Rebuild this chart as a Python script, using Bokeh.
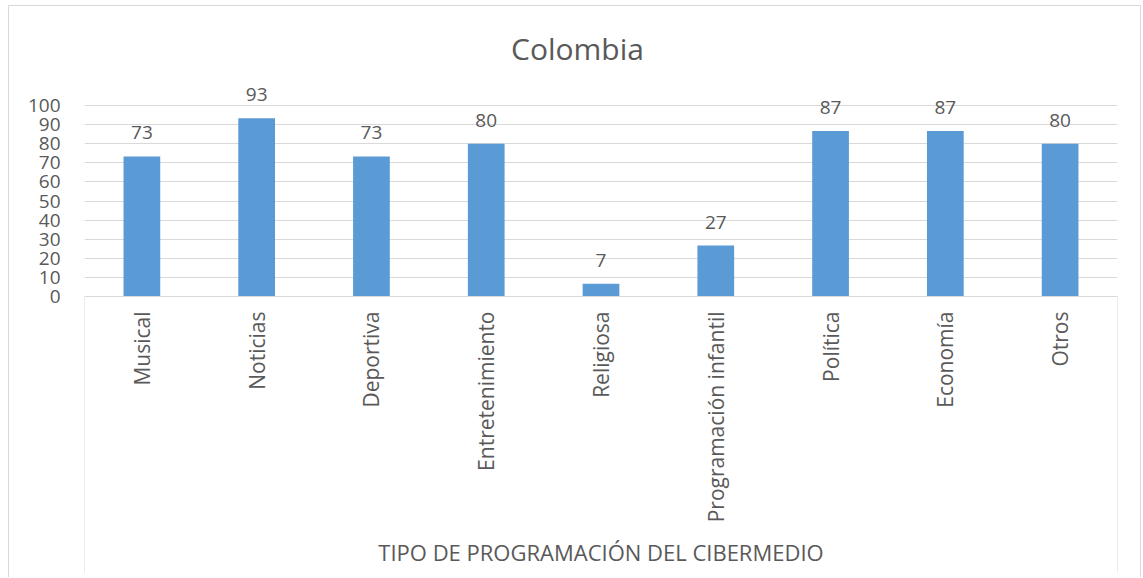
import math
from bokeh.plotting import figure
from bokeh.models import ColumnDataSource, FactorRange, FixedTicker, Span, Label, Range1d
from bokeh.core.properties import value
from bokeh.embed import file_html
from bokeh.resources import INLINE

categories = ["Musical", "Noticias", "Deportiva", "Entretenimiento", "Religiosa",
              "Programación infantil", "Política", "Economía", "Otros"]
values = [73.3, 93.3, 73.3, 80.0, 6.7, 26.7, 86.7, 86.7, 80.0]
y_ticks = [0, 10, 20, 30, 40, 50, 60, 70, 80, 90, 100]
title_text = "Colombia"
x_title = "TIPO DE PROGRAMACIÓN DEL CIBERMEDIO"

FONT = "Open Sans"
TXT = "#595959"
GRID = "#d9d9d9"

# layout constants (pixels inside the figure)
W, H = 1133, 572
FRAME_L, FRAME_R = 75, 1108
ZERO_Y = 290          # pixel row of value 0
PX = 1.91             # pixels per unit
y_end = ZERO_Y / PX
y_start = -(H - ZERO_Y) / PX
n = len(categories)
slot = (FRAME_R - FRAME_L) / n

src = ColumnDataSource(dict(cat=categories, val=values,
                            lab=[str(int(round(v))) for v in values],
                            zero=[0] * n))

p = figure(width=W, height=H, output_backend="svg", toolbar_location=None,
           x_range=FactorRange(*categories, range_padding=0),
           y_range=Range1d(y_start, y_end),
           min_border_left=FRAME_L, min_border_right=W - FRAME_R,
           min_border_top=0, min_border_bottom=0)
p.margin = (5, 0, 0, 8)
p.styles = {"border-top": "1px solid #d9d9d9", "border-left": "1px solid #d9d9d9",
            "border-right": "1px solid #d9d9d9"}
p.outline_line_color = None
p.background_fill_color = "white"
p.border_fill_color = "white"

p.vbar(x="cat", top="val", width=0.32, source=src, color="#5B9BD5", line_color=None)
p.text(x="cat", y="val", text="lab", source=src, y_offset=-17,
       text_align="center", text_baseline="bottom",
       text_font=value(FONT), text_font_size="19px", text_color=TXT)

# category labels under the axis
p.text(x="cat", y="zero", text="cat", source=src, y_offset=15, angle=math.pi / 2,
       text_align="right", text_baseline="middle",
       text_font=value(FONT), text_font_size="21px", text_color=TXT)

# category axis line and box sides
p.add_layout(Span(location=0, dimension="width", line_color=GRID, line_width=1))
p.segment(x0=[0, n], y0=[0, 0], x1=[0, n], y1=[y_start + 3, y_start + 3],
          line_color=GRID, line_width=1)

p.yaxis.ticker = FixedTicker(ticks=y_ticks)
p.yaxis.axis_line_color = None
p.yaxis.major_tick_line_color = None
p.yaxis.minor_tick_line_color = None
p.yaxis.major_label_standoff = 18
p.yaxis.major_label_text_font = FONT
p.yaxis.major_label_text_font_size = "19px"
p.yaxis.major_label_text_color = TXT

p.ygrid.grid_line_color = GRID
p.xgrid.grid_line_color = None
p.xaxis.visible = False

p.add_layout(Label(x=n / 2, y=-(551 - 296) / PX, text=x_title,
                   text_align="center", text_baseline="middle",
                   text_font=FONT, text_font_size="22px", text_color=TXT))
p.add_layout(Label(x=(577 - 84) / slot, y=(296 - 48) / PX,
                   text=title_text, text_align="center", text_baseline="middle",
                   text_font=FONT, text_font_size="30px", text_color=TXT))

open("out.html", "w").write(file_html(p, INLINE))
